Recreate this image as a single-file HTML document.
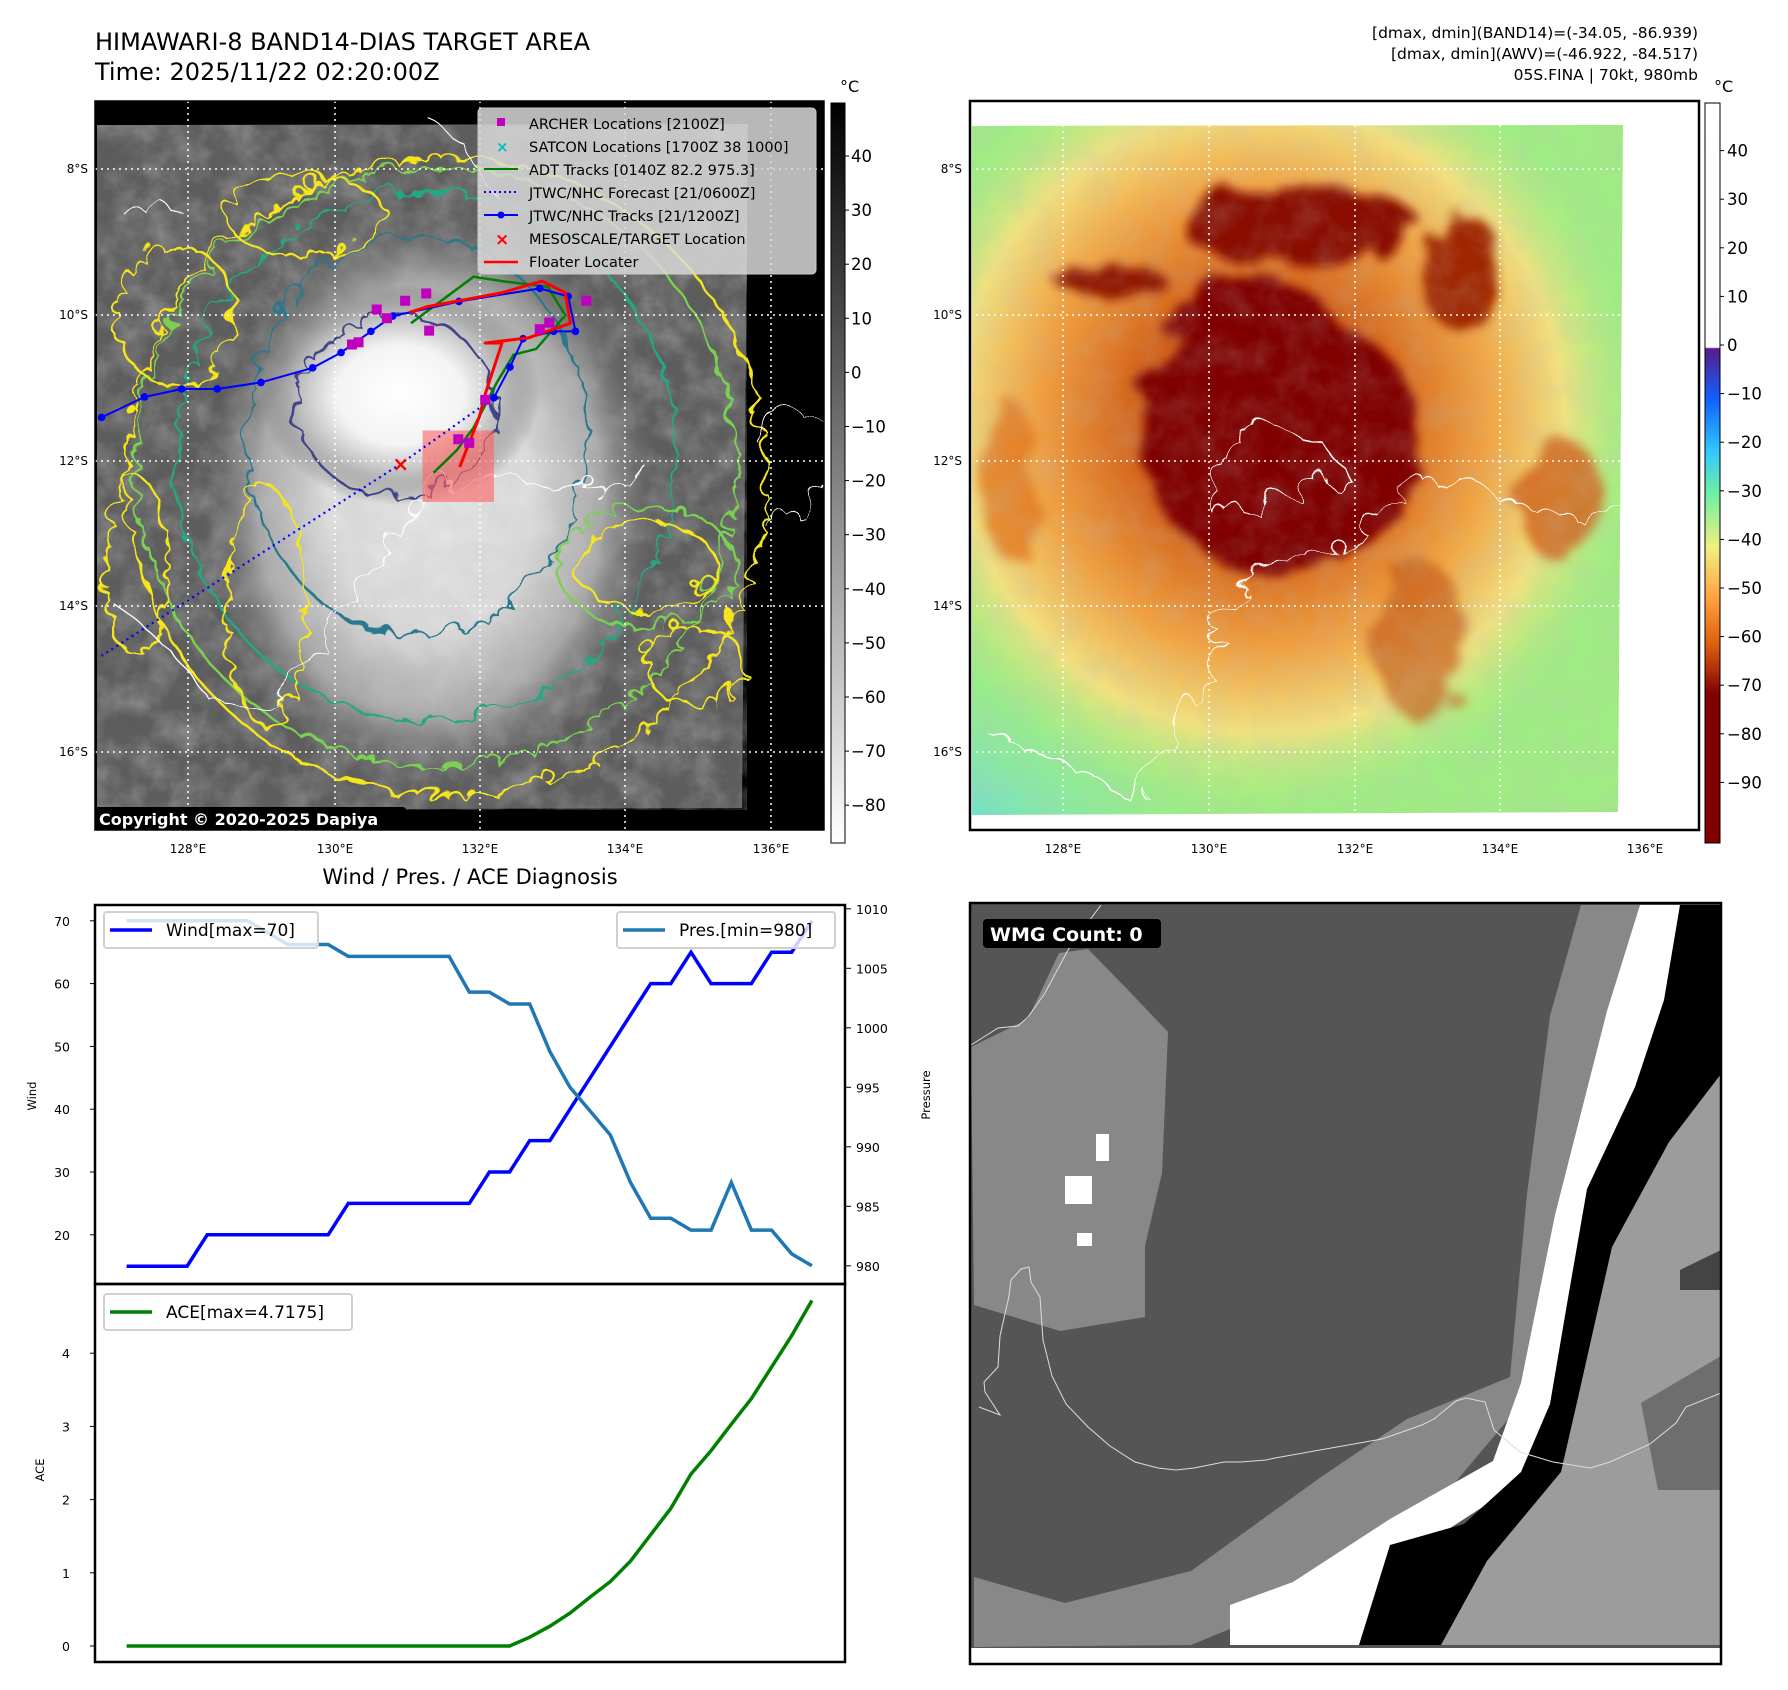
<!DOCTYPE html>
<html><head><meta charset="utf-8"><style>
html,body{margin:0;padding:0;background:#fff;}
svg{display:block;font-family:"DejaVu Sans","Liberation Sans",sans-serif;}
</style></head><body>
<svg id="fig" width="1788" height="1690" viewBox="0 0 1788 1690" xmlns="http://www.w3.org/2000/svg">
<defs>
<filter id="tex" x="0" y="0" width="100%" height="100%"><feTurbulence type="fractalNoise" baseFrequency="0.035" numOctaves="4" seed="3"/><feColorMatrix type="matrix" values="0 0 0 0 0.5  0 0 0 0 0.5  0 0 0 0 0.5  0 0 0 1.6 -0.55"/></filter>
<filter id="texd" x="0" y="0" width="100%" height="100%"><feTurbulence type="fractalNoise" baseFrequency="0.03" numOctaves="4" seed="9"/><feColorMatrix type="matrix" values="0 0 0 0 0.1  0 0 0 0 0.1  0 0 0 0 0.1  0 0 0 2 -0.8"/></filter>
<filter id="wig" x="-10%" y="-10%" width="120%" height="120%"><feTurbulence type="turbulence" baseFrequency="0.03" numOctaves="2" seed="7" result="n"/><feDisplacementMap in="SourceGraphic" in2="n" scale="24"/></filter>
<filter id="wig2" x="-10%" y="-10%" width="120%" height="120%"><feTurbulence type="turbulence" baseFrequency="0.02" numOctaves="2" seed="11" result="n"/><feDisplacementMap in="SourceGraphic" in2="n" scale="40"/></filter>
<filter id="blobf" x="-20%" y="-20%" width="140%" height="140%"><feTurbulence type="fractalNoise" baseFrequency="0.02" numOctaves="3" seed="5" result="n"/><feDisplacementMap in="SourceGraphic" in2="n" scale="40"/><feGaussianBlur stdDeviation="5"/></filter>
<radialGradient id="wcore" cx="0.5" cy="0.5" r="0.5"><stop offset="0" stop-color="#fff"/><stop offset="0.45" stop-color="#f4f4f4"/><stop offset="0.75" stop-color="#b8b8b8"/><stop offset="1" stop-color="#707070" stop-opacity="0"/></radialGradient>
<radialGradient id="rring" cx="0.5" cy="0.5" r="0.5"><stop offset="0" stop-color="#b03008"/><stop offset="0.35" stop-color="#d86018"/><stop offset="0.6" stop-color="#f5a040"/><stop offset="0.8" stop-color="#f5e080"/><stop offset="1" stop-color="#b8f080" stop-opacity="0"/></radialGradient>
<radialGradient id="rblue" cx="0" cy="1" r="1"><stop offset="0" stop-color="#50b8ff"/><stop offset="0.6" stop-color="#70e0d0"/><stop offset="1" stop-color="#90f090" stop-opacity="0"/></radialGradient>
<linearGradient id="cbgray" x1="0" y1="0" x2="0" y2="1"><stop offset="0" stop-color="#000"/><stop offset="1" stop-color="#fff"/></linearGradient>
<linearGradient id="cbcol" x1="0" y1="0" x2="0" y2="1">
<stop offset="0" stop-color="#fff"/><stop offset="0.33" stop-color="#fdfdff"/><stop offset="0.332" stop-color="#5a1a8a"/>
<stop offset="0.40" stop-color="#1060ff"/><stop offset="0.47" stop-color="#30c8ff"/><stop offset="0.53" stop-color="#70f0a0"/>
<stop offset="0.60" stop-color="#f0f080"/><stop offset="0.67" stop-color="#ffa040"/><stop offset="0.73" stop-color="#e06010"/>
<stop offset="0.80" stop-color="#800000"/><stop offset="1" stop-color="#800000"/></linearGradient>
<clipPath id="clipL"><rect x="95" y="101" width="729" height="729"/></clipPath>
<clipPath id="clipR"><rect x="970" y="101" width="729" height="729"/></clipPath>
<clipPath id="clipRd"><polygon points="972,126 1623,125 1618,812 972,815"/></clipPath>
<clipPath id="clipB"><rect x="970" y="903" width="751" height="761"/></clipPath>
</defs>

<text x="95" y="50" font-size="24">HIMAWARI-8 BAND14-DIAS TARGET AREA</text>
<text x="95" y="80" font-size="24">Time: 2025/11/22 02:20:00Z</text>
<g font-size="15.5" text-anchor="end">
<text x="1698" y="38">[dmax, dmin](BAND14)=(-34.05, -86.939)</text>
<text x="1698" y="59">[dmax, dmin](AWV)=(-46.922, -84.517)</text>
<text x="1698" y="80">05S.FINA | 70kt, 980mb</text>
</g>

<g clip-path="url(#clipL)">
<rect x="95" y="101" width="729" height="729" fill="#000"/>
<polygon points="97,125 748,124 742,808 97,810" fill="#5e5e5e"/>
<rect x="97" y="125" width="650" height="685" filter="url(#tex)" opacity="0.55"/>
<rect x="97" y="125" width="650" height="685" filter="url(#texd)" opacity="0.5"/>
<ellipse cx="430" cy="500" rx="230" ry="290" fill="url(#wcore)" opacity="0.8"/>
<ellipse cx="400" cy="395" rx="140" ry="110" fill="url(#wcore)"/>
<g fill="none" stroke-width="2.5" filter="url(#wig)">
<ellipse cx="440" cy="470" rx="320" ry="320" stroke="#f5e61e"/>
<ellipse cx="430" cy="460" rx="300" ry="300" stroke="#7ad151"/>
<ellipse cx="420" cy="450" rx="250" ry="265" stroke="#22a884"/>
<ellipse cx="410" cy="430" rx="170" ry="200" stroke="#2a788e"/>
<ellipse cx="390" cy="400" rx="100" ry="90" stroke="#414487"/>
<ellipse cx="170" cy="310" rx="60" ry="70" stroke="#f5e61e"/>
<ellipse cx="640" cy="560" rx="90" ry="60" stroke="#7ad151"/>
<ellipse cx="640" cy="560" rx="70" ry="45" stroke="#f5e61e"/>
<ellipse cx="130" cy="560" rx="30" ry="90" stroke="#f5e61e"/>
<ellipse cx="690" cy="660" rx="50" ry="40" stroke="#f5e61e"/>
<ellipse cx="300" cy="210" rx="80" ry="40" stroke="#f5e61e"/>
<ellipse cx="260" cy="600" rx="40" ry="120" stroke="#f5e61e"/>
</g>
<g fill="none" stroke="#fff" stroke-width="1.3" filter="url(#wig2)">
<path d="M100,590 L160,640 200,690 260,700 300,650 330,600 380,520 420,480 470,470 520,470 580,480 640,460"/>
<path d="M745,430 L780,410 820,400"/><path d="M760,520 L800,500 824,470"/>
<path d="M420,110 L460,140 480,180"/><path d="M110,200 L150,190 180,210"/>
</g>
<g stroke="#fff" stroke-width="1.5" stroke-dasharray="2,4" fill="none">
<line x1="188" y1="101" x2="188" y2="830"/><line x1="335" y1="101" x2="335" y2="830"/><line x1="480" y1="101" x2="480" y2="830"/><line x1="625" y1="101" x2="625" y2="830"/><line x1="771" y1="101" x2="771" y2="830"/>
<line x1="95" y1="169" x2="824" y2="169"/><line x1="95" y1="315" x2="824" y2="315"/><line x1="95" y1="461" x2="824" y2="461"/><line x1="95" y1="606" x2="824" y2="606"/><line x1="95" y1="752" x2="824" y2="752"/>
</g>
<g id="tracks"></g>
<rect x="94" y="807" width="312" height="25" rx="3" fill="#000"/>
<text x="99" y="825" font-size="16" font-weight="bold" fill="#fff">Copyright © 2020-2025 Dapiya</text>
</g>
<rect x="95" y="101" width="729" height="729" fill="none" stroke="#000" stroke-width="1.5"/>
<g>
<rect x="478" y="108" width="338" height="166" rx="4" fill="#d8d8d8" fill-opacity="0.85" stroke="#ccc"/>
<g font-size="14.5">
<rect x="497" y="118" width="8" height="8" fill="#bf00bf"/><text x="529" y="129">ARCHER Locations [2100Z]</text>
<text x="496" y="152" fill="#00bfbf" font-size="15" font-weight="bold">×</text><text x="529" y="152">SATCON Locations [1700Z 38 1000]</text>
<line x1="484" y1="169" x2="518" y2="169" stroke="#008000" stroke-width="2"/><text x="529" y="175">ADT Tracks [0140Z 82.2 975.3]</text>
<line x1="484" y1="192" x2="518" y2="192" stroke="#00f" stroke-width="2" stroke-dasharray="2,3"/><text x="529" y="198">JTWC/NHC Forecast [21/0600Z]</text>
<line x1="484" y1="215" x2="518" y2="215" stroke="#00f" stroke-width="2"/><circle cx="501" cy="215" r="3.5" fill="#00f"/><text x="529" y="221">JTWC/NHC Tracks [21/1200Z]</text>
<text x="495" y="245" fill="#f00" font-size="17" font-weight="bold">×</text><text x="529" y="244">MESOSCALE/TARGET Location</text>
<line x1="484" y1="262" x2="518" y2="262" stroke="#f00" stroke-width="2.5"/><text x="529" y="267">Floater Locater</text>
</g></g>
<g>
<rect x="831" y="103" width="14" height="740" fill="url(#cbgray)" stroke="#000"/>
<text x="840" y="92" font-size="16">°C</text>
<g id="cbL" font-size="16.5"></g>
</g>
<g font-size="12" text-anchor="end">
<text x="88" y="173">8°S</text><text x="88" y="319">10°S</text><text x="88" y="465">12°S</text><text x="88" y="610">14°S</text><text x="88" y="756">16°S</text></g>
<g font-size="12" text-anchor="middle">
<text x="188" y="853">128°E</text><text x="335" y="853">130°E</text><text x="480" y="853">132°E</text><text x="625" y="853">134°E</text><text x="771" y="853">136°E</text></g>

<g clip-path="url(#clipR)">
<rect x="970" y="101" width="729" height="729" fill="#fff"/>
<g clip-path="url(#clipRd)">
<rect x="970" y="120" width="660" height="700" fill="#a0ec84"/>
<ellipse cx="1020" cy="800" rx="260" ry="200" fill="url(#rblue)"/>
<ellipse cx="1260" cy="420" rx="380" ry="390" fill="url(#rring)" opacity="0.95"/>
<g filter="url(#blobf)">
<ellipse cx="1280" cy="440" rx="140" ry="130" fill="#800000"/>
<path d="M1160,330 Q1220,240 1320,300 Q1360,360 1300,380 Z" fill="#800000"/>
<ellipse cx="1300" cy="225" rx="120" ry="40" fill="#8a0800"/>
<ellipse cx="1110" cy="280" rx="55" ry="16" fill="#901800"/>
<ellipse cx="1460" cy="270" rx="40" ry="60" fill="#a02800"/>
<ellipse cx="1560" cy="500" rx="45" ry="60" fill="#d06018" opacity="0.8"/>
<ellipse cx="1420" cy="640" rx="45" ry="80" fill="#c05010" opacity="0.6"/>
<ellipse cx="1010" cy="480" rx="30" ry="80" fill="#e07020" opacity="0.7"/>
</g>
<rect x="972" y="125" width="650" height="690" filter="url(#tex)" opacity="0.22"/>
</g>
<g fill="none" stroke="#fff" stroke-width="1.3" filter="url(#wig2)">
<path d="M1210,510 L1240,500 1300,480 1340,470 1320,440 1280,420 1230,420 1210,470 Z"/>
<path d="M975,720 L1030,740 1070,760 1120,790 1150,760 1180,700 1210,630 1240,560 1290,540 1350,530 1390,480"/>
<path d="M1390,480 L1450,470 1500,490 1560,510 1620,500"/>
</g>
<g stroke="#fff" stroke-width="1.5" stroke-dasharray="2,4" fill="none">
<line x1="1063" y1="101" x2="1063" y2="830"/><line x1="1209" y1="101" x2="1209" y2="830"/><line x1="1355" y1="101" x2="1355" y2="830"/><line x1="1500" y1="101" x2="1500" y2="830"/><line x1="1645" y1="101" x2="1645" y2="830"/>
<line x1="970" y1="169" x2="1699" y2="169"/><line x1="970" y1="315" x2="1699" y2="315"/><line x1="970" y1="461" x2="1699" y2="461"/><line x1="970" y1="606" x2="1699" y2="606"/><line x1="970" y1="752" x2="1699" y2="752"/>
</g>
</g>
<rect x="970" y="101" width="729" height="729" fill="none" stroke="#000" stroke-width="2.5"/>
<g>
<rect x="1705" y="103" width="15" height="740" fill="url(#cbcol)" stroke="#000"/>
<text x="1714" y="92" font-size="16">°C</text>
<g id="cbR" font-size="16.5"></g>
</g>
<g font-size="12" text-anchor="end">
<text x="962" y="173">8°S</text><text x="962" y="319">10°S</text><text x="962" y="465">12°S</text><text x="962" y="610">14°S</text><text x="962" y="756">16°S</text></g>
<g font-size="12" text-anchor="middle">
<text x="1063" y="853">128°E</text><text x="1209" y="853">130°E</text><text x="1355" y="853">132°E</text><text x="1500" y="853">134°E</text><text x="1645" y="853">136°E</text></g>

<text x="470" y="884" font-size="21" text-anchor="middle">Wind / Pres. / ACE Diagnosis</text>
<g id="chart"></g>

<g clip-path="url(#clipB)">
<rect x="970" y="903" width="751" height="761" fill="#555"/>
<polygon fill="#888" points="971,1047 1028,1019 1059,953 1088,949 1128,990 1168,1032 1162,1173 1145,1246 1145,1317 1060,1331 974,1305"/>
<polygon fill="#888" points="1581,905 1640,905 1555,1220 1521,1404 1407,1540 1293,1603 1191,1645 974,1647 974,1577 1065,1603 1191,1571 1321,1477 1407,1419 1510,1377 1527,1194 1550,1016"/>
<polygon fill="#fff" points="1640,905 1680,905 1657,1089 1578,1299 1567,1404 1521,1482 1441,1534 1390,1576 1359,1645 1230,1645 1230,1605 1293,1582 1390,1519 1493,1461 1521,1383 1555,1215 1607,1011"/>
<polygon fill="#000" points="1680,905 1721,905 1721,1074 1669,1142 1612,1247 1578,1398 1561,1472 1487,1561 1441,1645 1359,1645 1390,1545 1464,1524 1521,1472 1550,1404 1567,1304 1587,1189 1635,1087 1664,1000"/>
<polygon fill="#9c9c9c" points="1721,1074 1721,1645 1441,1645 1487,1561 1561,1472 1578,1398 1612,1247 1669,1142"/>
<polygon fill="#6e6e6e" points="1641,1403 1721,1356 1721,1490 1658,1490"/>
<polygon fill="#444" points="1680,1270 1721,1250 1721,1290 1680,1290"/>
<rect x="1096" y="1134" width="13" height="27" fill="#fff"/><rect x="1065" y="1176" width="27" height="28" fill="#fff"/><rect x="1077" y="1233" width="15" height="13" fill="#fff"/>
<rect x="970" y="1648" width="751" height="16" fill="#fff"/>
<path fill="none" stroke="#ddd" stroke-width="1" d="M971,1045 L998,1028 1018,1026 1028,1017 1045,993 1068,950 1095,913 1101,905 M979,1407 L1000,1415 985,1392 984,1382 998,1367 1000,1336 1009,1296 1011,1280 1021,1269 1029,1267 1031,1282 1040,1297 1043,1340 1052,1376 1066,1404 1088,1427 1110,1446 1135,1462 1158,1468 1176,1470 1194,1468 1224,1462 1241,1462 1266,1460 1275,1458 1382,1439 1422,1425 1434,1419 1456,1401 1466,1398 1485,1402 1494,1430 1520,1452 1553,1462 1590,1468 1610,1462 1650,1444 1676,1423 1686,1407 1721,1393"/>
</g>
<rect x="970" y="903" width="751" height="761" fill="none" stroke="#000" stroke-width="2.5"/>
<rect x="983" y="919" width="178" height="29" rx="4" fill="#000"/>
<text x="990" y="941" font-size="19" font-weight="bold" fill="#fff">WMG Count: 0</text>
</svg>
<script>
const stepIdx = [0,1,2,3,4,5,6,7,8,9,10,11,12,13,14,15,16,17,18,19,20,21,22,23,24,25,26,27,28,29,30,31,32,33,34];
const windVals = [15,15,15,15,20,20,20,20,20,20,20,25,25,25,25,25,25,25,30,30,35,35,40,45,50,55,60,60,65,60,60,60,65,65,70];
const presVals = [1009,1009,1009,1009,1009,1009,1009,1008,1007,1007,1007,1006,1006,1006,1006,1006,1006,1003,1003,1002,1002,998,995,993,991,987,984,984,983,983,987,983,983,981,980];
const aceVals = [0,0,0,0,0,0,0,0,0,0,0,0,0,0,0,0,0,0,0,0,0.12,0.27,0.45,0.67,0.88,1.16,1.52,1.88,2.35,2.67,3.03,3.38,3.81,4.24,4.72];
const windTicks = [20,30,40,50,60,70];
const presTicks = [980,985,990,995,1000,1005,1010];
const aceTicks = [0,1,2,3,4];
const jtwcLon = [126.81,127.40,127.91,128.40,129.00,129.71,130.10,130.51,130.81,131.72,132.83,133.22,133.32,133.02,132.60,132.42,132.20];
const jtwcLat = [11.41,11.13,11.02,11.02,10.93,10.73,10.52,10.23,10.02,9.82,9.64,9.75,10.23,10.23,10.33,10.72,11.14];
const fcstLon = [132.20,130.90,126.81];
const fcstLat = [11.14,12.06,14.68];
const archerLon = [130.59,130.73,130.98,131.27,131.31,130.25,130.34,132.83,132.96,133.47,132.08,131.71,131.86];
const archerLat = [9.93,10.05,9.81,9.71,10.22,10.41,10.38,10.20,10.11,9.81,11.17,11.71,11.76];
const floatLon = [131.73,132.00,132.08,132.31,132.08,132.67,133.25,133.18,132.86,132.31,131.29,131.04];
const floatLat = [12.09,11.40,11.09,10.39,10.39,10.32,10.12,9.70,9.54,9.70,9.89,9.97];
const adtLon = [131.37,131.69,131.92,132.08,132.24,132.47,132.78,133.18,132.94,132.31,131.92,131.06];
const adtLat = [12.17,11.86,11.55,11.24,10.93,10.55,10.47,10.01,9.62,9.54,9.48,10.12];
const targetLon = [130.92], targetLat = [12.06];
const boxLon = [131.22,132.20], boxLat = [11.59,12.57];
const cbLTicks = [40,30,20,10,0,-10,-20,-30,-40,-50,-60,-70,-80];
const cbRTicks = [40,30,20,10,0,-10,-20,-30,-40,-50,-60,-70,-80,-90];

const NS='http://www.w3.org/2000/svg';
function mk(tag, attrs, parent){const e=document.createElementNS(NS,tag);for(const k in attrs)e.setAttribute(k,attrs[k]);parent.appendChild(e);return e;}
const px = lon => 95 + (lon-126.72)*72.8;
const py = lat => 101 + (lat-7.07)*72.9;
const tg = document.getElementById('tracks');
function pts(lons,lats){return lons.map((l,i)=>px(l).toFixed(1)+','+py(lats[i]).toFixed(1)).join(' ');}

let e = mk('rect',{x:px(boxLon[0]),y:py(boxLat[0]),width:px(boxLon[1])-px(boxLon[0]),height:py(boxLat[1])-py(boxLat[0]),fill:'#ff6060','fill-opacity':0.6},tg);


e = mk('polyline',{points:pts(fcstLon,fcstLat),fill:'none',stroke:'#00f','stroke-width':2.2,'stroke-dasharray':'2,4'},tg);


e = mk('polyline',{points:pts(adtLon,adtLat),fill:'none',stroke:'#008000','stroke-width':2.5},tg);


e = mk('polyline',{points:pts(jtwcLon,jtwcLat),fill:'none',stroke:'#00f','stroke-width':2},tg);


jtwcLon.forEach((l,i)=>{const c=mk('circle',{cx:px(l),cy:py(jtwcLat[i]),r:3.8,fill:'#00f'},tg);

});
e = mk('polyline',{points:pts(floatLon,floatLat),fill:'none',stroke:'#f00','stroke-width':3,'stroke-linejoin':'round'},tg);


archerLon.forEach((l,i)=>{const r=mk('rect',{x:px(l)-5,y:py(archerLat[i])-5,width:10,height:10,fill:'#bf00bf'},tg);

});
targetLon.forEach((l,i)=>{const t=mk('text',{x:px(l),y:py(targetLat[i])+6,'text-anchor':'middle','font-size':20,'font-weight':'bold',fill:'#f00'},tg);t.textContent='×';

});

const cbL=document.getElementById('cbL');
cbLTicks.forEach(v=>{const y=156+(40-v)*5.41;mk('line',{x1:845,y1:y,x2:849,y2:y,stroke:'#000'},cbL);const t=mk('text',{x:851,y:y+6},cbL);t.textContent=v<0?'−'+(-v):String(v);

});
const cbR=document.getElementById('cbR');
cbRTicks.forEach(v=>{const y=150.6+(40-v)*4.86;mk('line',{x1:1720,y1:y,x2:1724,y2:y,stroke:'#000'},cbR);const t=mk('text',{x:1727,y:y+6},cbR);t.textContent=v<0?'−'+(-v):String(v);

});

const ch=document.getElementById('chart');
const X0=126.6, X1=811.9;
const xs = i => X0 + i*(X1-X0)/(stepIdx.length-1);
const wy = v => 920.8 + (70-v)*6.28;
const pyP = p => 908.8 + (1010-p)*11.9;
const ay = a => 1646 - a*73.2;
mk('rect',{x:95,y:905,width:750,height:757,fill:'#fff'},ch);
windTicks.forEach(v=>{const y=wy(v);mk('line',{x1:90,y1:y,x2:95,y2:y,stroke:'#000'},ch);const t=mk('text',{x:70,y:y+5,'font-size':12.5,'text-anchor':'end'},ch);t.textContent=v;

});
presTicks.forEach(v=>{const y=pyP(v);mk('line',{x1:845,y1:y,x2:851,y2:y,stroke:'#000'},ch);const t=mk('text',{x:856,y:y+5,'font-size':12.5},ch);t.textContent=v;

});
aceTicks.forEach(v=>{const y=ay(v);mk('line',{x1:90,y1:y,x2:95,y2:y,stroke:'#000'},ch);const t=mk('text',{x:70,y:y+5,'font-size':12.5,'text-anchor':'end'},ch);t.textContent=v;

});
let l;
l=mk('polyline',{points:stepIdx.map(i=>xs(i).toFixed(1)+','+wy(windVals[i]).toFixed(1)).join(' '),fill:'none',stroke:'#0000ff','stroke-width':3.5},ch);


l=mk('polyline',{points:stepIdx.map(i=>xs(i).toFixed(1)+','+pyP(presVals[i]).toFixed(1)).join(' '),fill:'none',stroke:'#1f77b4','stroke-width':3.5},ch);


l=mk('polyline',{points:stepIdx.map(i=>xs(i).toFixed(1)+','+ay(aceVals[i]).toFixed(1)).join(' '),fill:'none',stroke:'#008000','stroke-width':3.5},ch);


mk('rect',{x:95,y:905,width:750,height:379,fill:'none',stroke:'#000','stroke-width':2.5},ch);
mk('rect',{x:95,y:1284,width:750,height:378,fill:'none',stroke:'#000','stroke-width':2.5},ch);
function legend(x,y,w,color,label,name){const g=mk('g',{},ch);


mk('rect',{x:x,y:y,width:w,height:36,rx:3,fill:'#fff','fill-opacity':0.8,stroke:'#d0d0d0','stroke-width':2},g);
mk('line',{x1:x+6,y1:y+18,x2:x+48,y2:y+18,stroke:color,'stroke-width':3.5},g);
const t=mk('text',{x:x+62,y:y+24,'font-size':17},g);t.textContent=label;}
legend(104,912,214,'#0000ff','Wind[max=70]','legend-wind');
legend(617,912,218,'#1f77b4','Pres.[min=980]','legend-pressure');
legend(104,1294,248,'#008000','ACE[max=4.7175]','legend-ace');
let t;
t=mk('text',{x:36,y:1096,'font-size':11.5,'text-anchor':'middle',transform:'rotate(-90 36 1096)'},ch);t.textContent='Wind';


t=mk('text',{x:930,y:1095,'font-size':11.5,'text-anchor':'middle',transform:'rotate(-90 930 1095)'},ch);t.textContent='Pressure';


t=mk('text',{x:44,y:1470,'font-size':11.5,'text-anchor':'middle',transform:'rotate(-90 44 1470)'},ch);t.textContent='ACE';


</script>
</body></html>
